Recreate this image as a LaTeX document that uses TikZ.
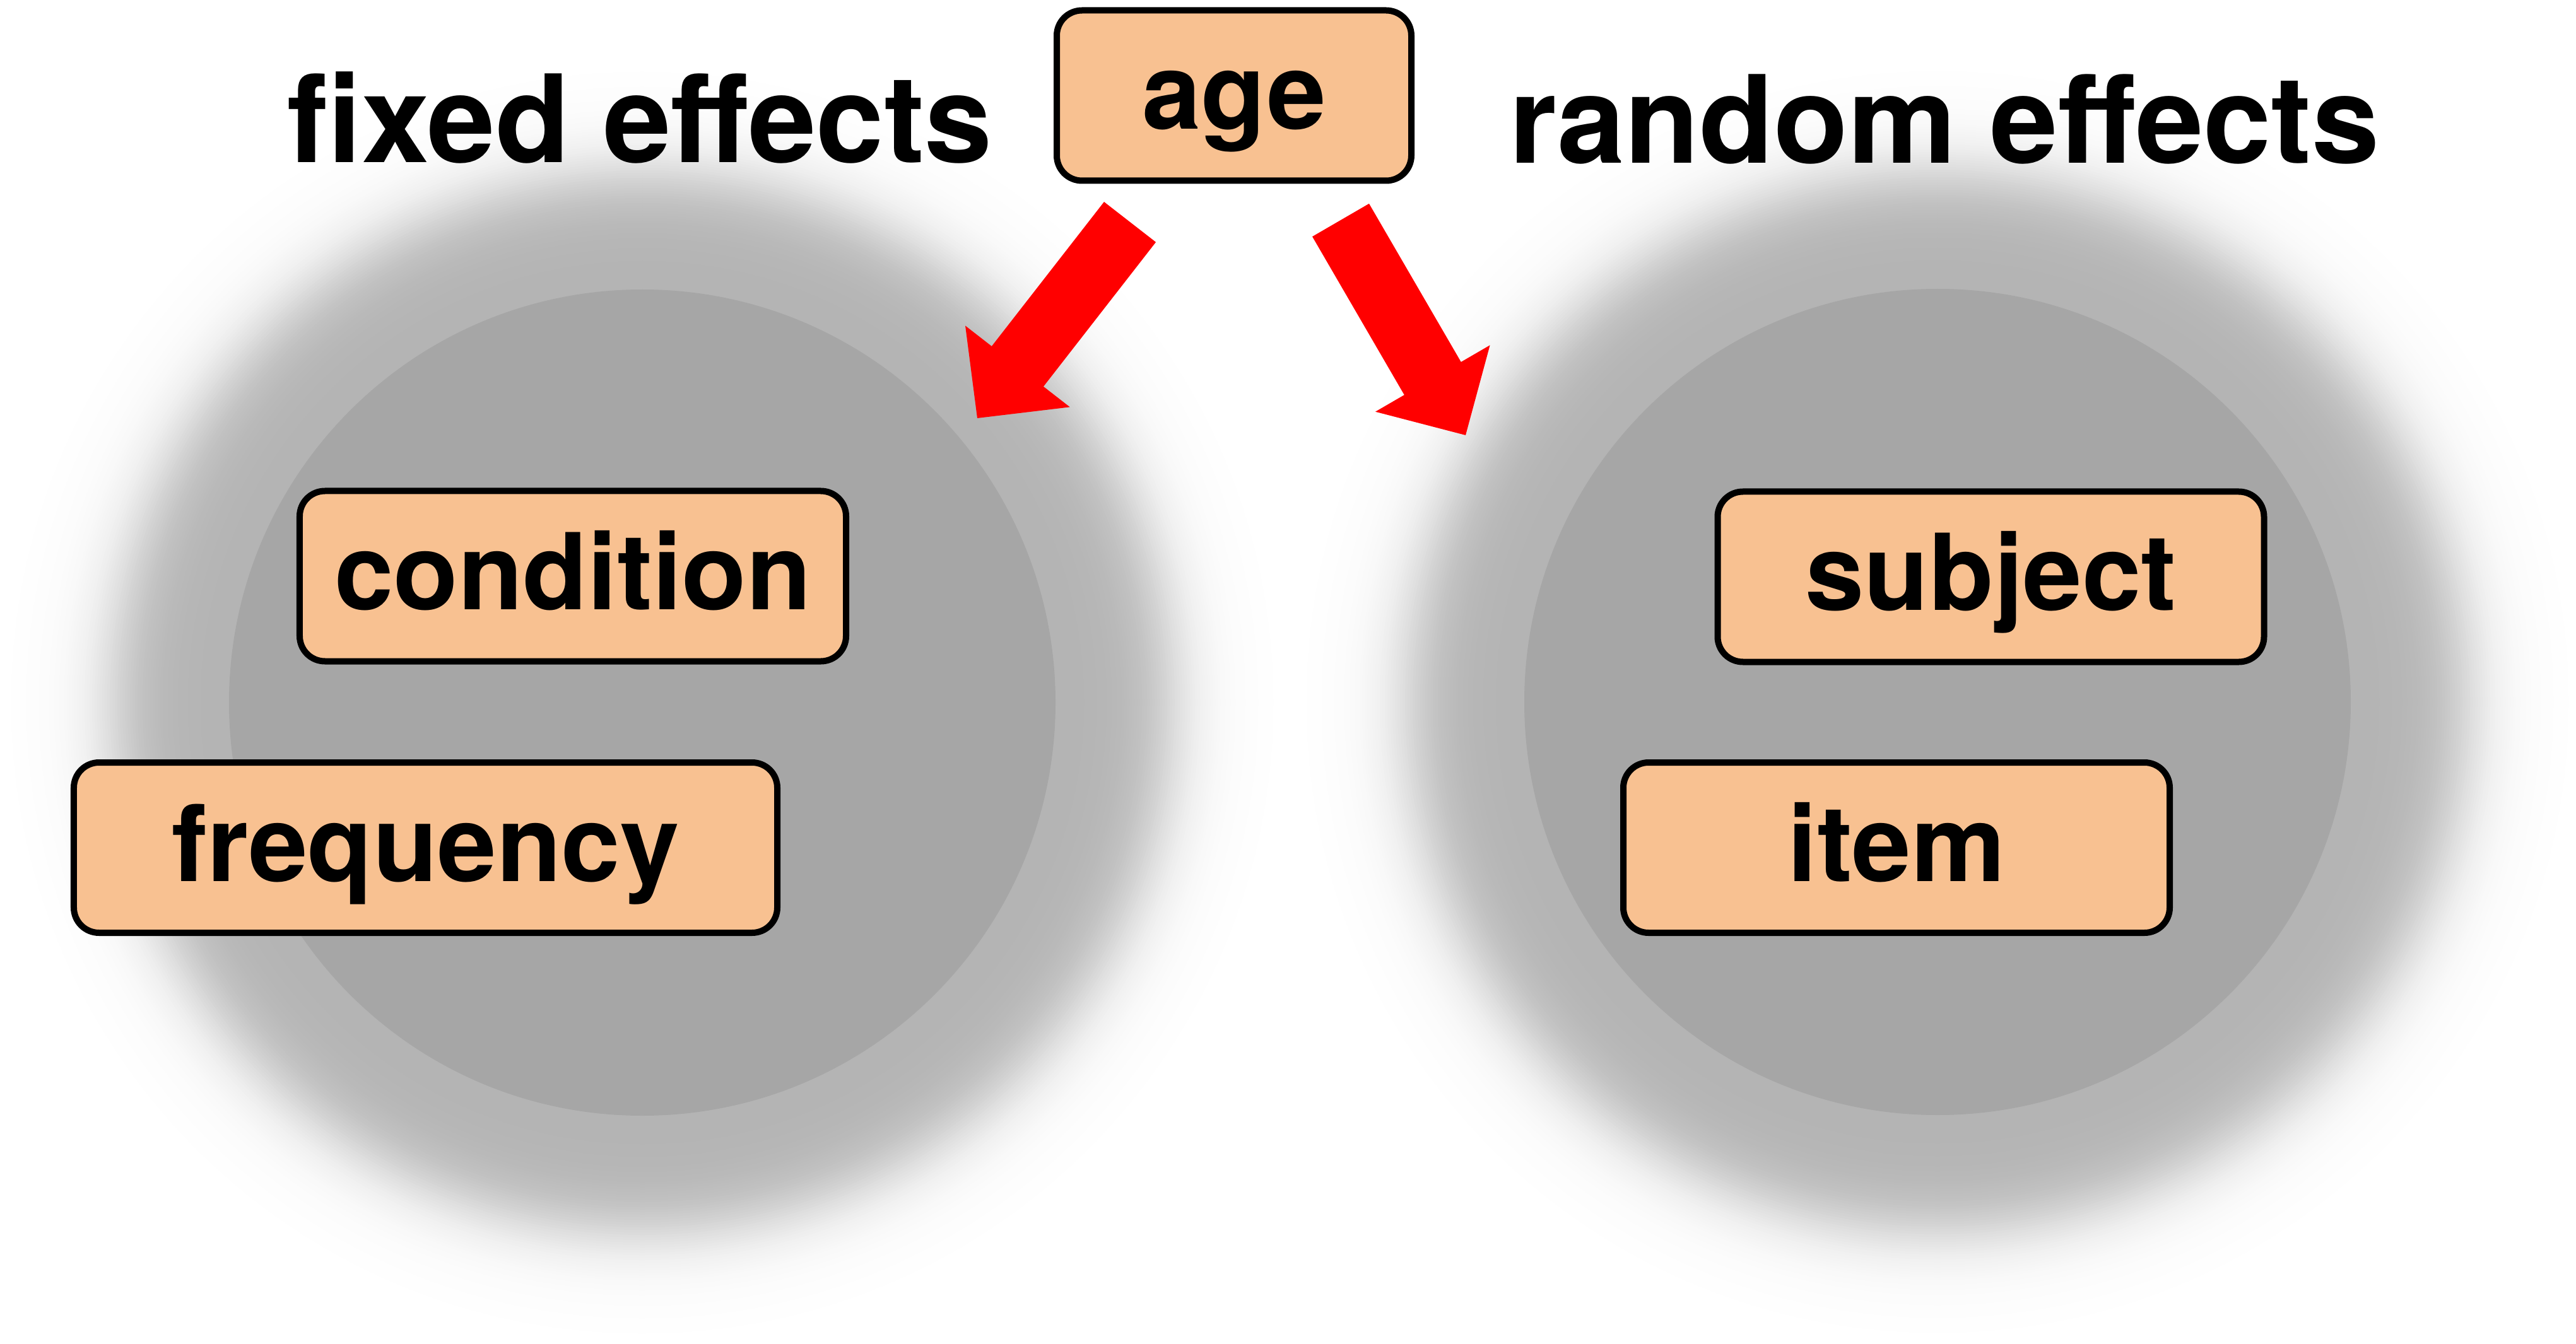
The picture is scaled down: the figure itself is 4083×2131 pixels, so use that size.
\documentclass[tikz,border=0pt]{standalone}
\usepackage{fontspec}
\setmainfont{TeX Gyre Heros}
\usetikzlibrary{calc}
\definecolor{peach}{HTML}{F8C191}
\definecolor{innergray}{HTML}{A6A6A6}
\definecolor{arrowred}{HTML}{FF0000}
\newcommand\drawblockarrow[2]{%
  \coordinate (ba-base) at ($(#2)!20.8pt!(#1)$);
  \fill[arrowred] ($(#1)!10.4pt!90:(#2)$) -- ($(ba-base)!10.4pt!90:(#2)$)
    -- ($(ba-base)!21pt!90:(#2)$) -- (#2) -- ($(ba-base)!21pt!-90:(#2)$)
    -- ($(ba-base)!10.4pt!-90:(#2)$) -- ($(#1)!10.4pt!-90:(#2)$) -- cycle;
}
\begin{document}
\begin{tikzpicture}[x=0.2pt,y=-0.2pt,
  box/.style={draw=black, line width=2pt, fill=peach, rounded corners=8pt,
    minimum height=54pt, text height=21.2pt, text depth=0pt, inner sep=0pt,
    font=\fontsize{33.6pt}{36pt}\selectfont\bfseries},
  title/.style={font=\fontsize{38.6pt}{40pt}\selectfont\bfseries, inner sep=0pt, anchor=base}]
\useasboundingbox (0,0) rectangle (4083,2131);
\fill[white] (0,0) rectangle (4083,2131);
% blurred discs (concentric rings approximating a soft edge)
\coordinate (lc) at (1018,1114);
\coordinate (rc) at (3071,1113);
\foreach \r in {1000,996,...,700}{
  \pgfmathsetmacro\z{(840-\r)/55}
  \pgfmathtruncatemacro\v{255-75/(1+exp(-1.702*\z))}
  \definecolor{ringcol}{RGB}{\v,\v,\v}
  \fill[ringcol] (lc) circle[radius=\r];
  \fill[ringcol] (rc) circle[radius=\r];
}
\fill[innergray] (lc) circle[radius=655];
\fill[innergray] (rc) circle[radius=655];
% titles
\node[title] (fixed) at (1014,258) {fixed effects};
\node[title] (random) at (3082,259) {random effects};
% arrows
\coordinate (ltail) at (1791,352);
\coordinate (ltip) at (1549,663);
\coordinate (rtail) at (2125,349);
\coordinate (rtip) at (2323,690);
\drawblockarrow{ltail}{ltip}
\drawblockarrow{rtail}{rtip}
% boxes
\node[box, minimum width=112.4pt] (age) at (1956,151.5) {age};
\node[box, minimum width=173.2pt] (condition) at (908,913.5) {condition};
\node[box, minimum width=223pt] (frequency) at (674.5,1344) {frequency};
\node[box, minimum width=173.2pt] (subject) at (3155.5,914.5) {subject};
\node[box, minimum width=173.2pt] (item) at (3006,1344) {item};
\end{tikzpicture}
\end{document}
